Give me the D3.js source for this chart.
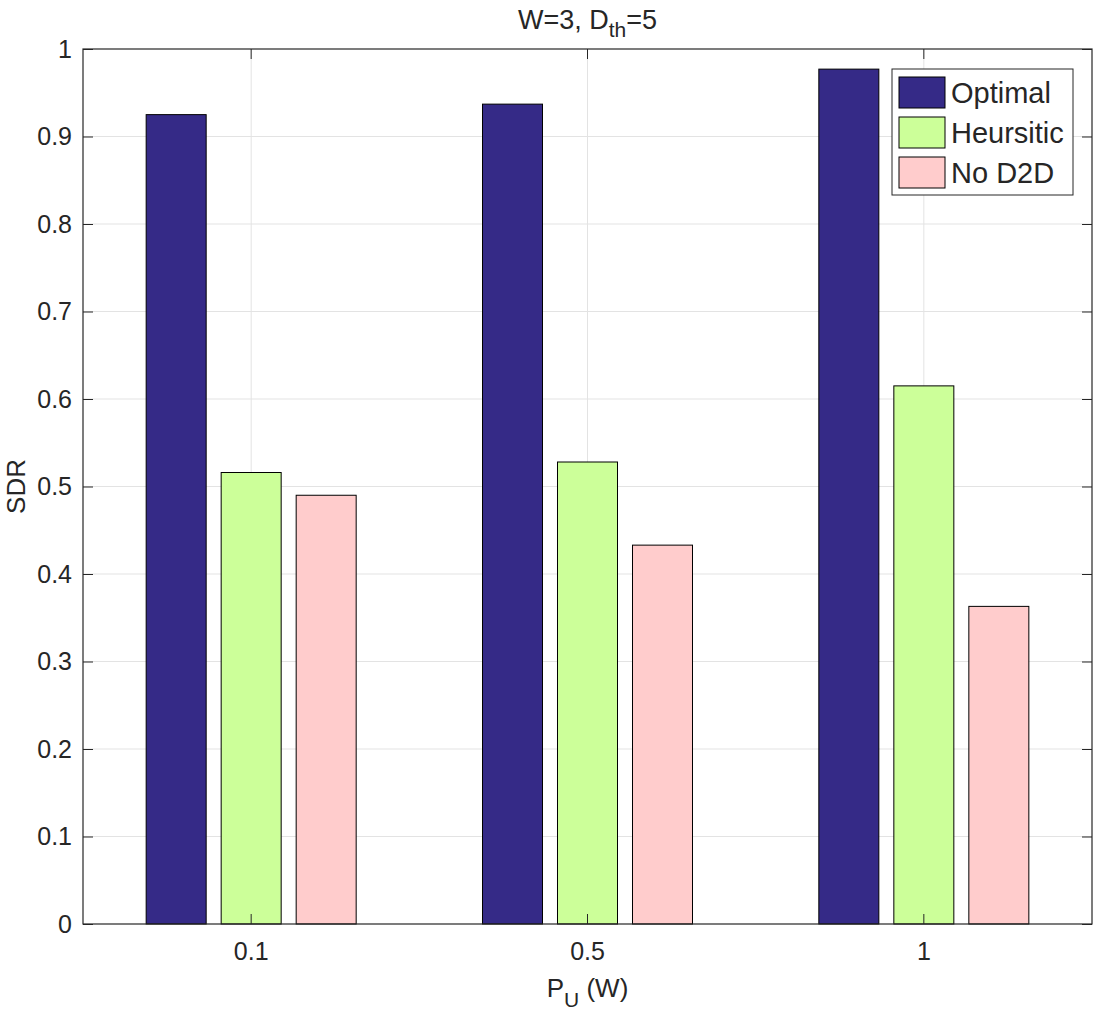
<!DOCTYPE html>
<html>
<head>
<meta charset="utf-8">
<script src="https://cdn.jsdelivr.net/npm/d3@7"></script>
<style>
  body { margin: 0; background: #fff; }
  svg text { font-family: "Liberation Sans", Arial, sans-serif; fill: #262626; }
</style>
</head>
<body>
<div id="chart"></div>
<script>
// data
const categories = ["0.1", "0.5", "1"];
const seriesNames = ["Optimal", "Heursitic", "No D2D"];
const optimal   = [0.925, 0.937, 0.977];
const heuristic = [0.516, 0.528, 0.615];
const noD2D     = [0.490, 0.433, 0.363];
const yTicks = [0, 0.1, 0.2, 0.3, 0.4, 0.5, 0.6, 0.7, 0.8, 0.9, 1];
const colors = ["#352a87", "#ccff99", "#ffcccc"];

const seriesValues = [optimal, heuristic, noD2D];

const W = 1107, H = 1012;
const margin = {top: 49, right: 15, bottom: 88, left: 83};
const width = W - margin.left - margin.right,
      height = H - margin.top - margin.bottom;

const svg = d3.select("#chart").append("svg")
  .attr("width", W)
  .attr("height", H);

const g = svg.append("g")
  .attr("transform", `translate(${margin.left},${margin.top})`);

const x = d3.scaleBand()
  .domain(categories)
  .range([0, width])
  .padding(0);

// bars inside a group
const inner = d3.scaleBand()
  .domain(seriesNames)
  .range([-x.bandwidth() * 0.3345, x.bandwidth() * 0.3345])
  .paddingInner(0.2)
  .paddingOuter(0.1);

const y = d3.scaleLinear()
  .domain([0, 1])
  .range([height, 0]);

const gridColor = "#e3e3e3";
const axisColor = "#262626";

// grid
g.append("g").selectAll("line.gy")
  .data(yTicks.slice(1, -1))
  .join("line")
  .attr("x1", 0).attr("x2", width)
  .attr("y1", d => y(d)).attr("y2", d => y(d))
  .attr("stroke", gridColor).attr("stroke-width", 1);

g.append("g").selectAll("line.gx")
  .data(categories)
  .join("line")
  .attr("x1", d => x(d) + x.bandwidth() / 2).attr("x2", d => x(d) + x.bandwidth() / 2)
  .attr("y1", 0).attr("y2", height)
  .attr("stroke", gridColor).attr("stroke-width", 1);

// bars
const table = [];
categories.forEach((c, i) => {
  seriesNames.forEach((s, j) => {
    table.push({cat: c, series: s, value: seriesValues[j][i], color: colors[j]});
  });
});

g.append("g").selectAll("rect")
  .data(table)
  .join("rect")
  .attr("x", d => x(d.cat) + x.bandwidth() / 2 + inner(d.series))
  .attr("width", inner.bandwidth())
  .attr("y", d => y(d.value))
  .attr("height", d => y(0) - y(d.value))
  .attr("fill", d => d.color)
  .attr("stroke", "#000")
  .attr("stroke-width", 1);

// axes with inward ticks
const tickLen = 10;
const yAxis = g.append("g")
  .call(d3.axisLeft(y).tickValues(yTicks).tickSizeInner(-tickLen).tickSizeOuter(0)
    .tickPadding(11).tickFormat(d => d3.format("")(d)));
const yAxisR = g.append("g")
  .attr("transform", `translate(${width},0)`)
  .call(d3.axisRight(y).tickValues(yTicks).tickSizeInner(-tickLen).tickSizeOuter(0).tickFormat(""));
const xAxis = g.append("g")
  .attr("transform", `translate(0,${height})`)
  .call(d3.axisBottom(x).tickSizeInner(-tickLen).tickSizeOuter(0).tickPadding(18));
const xAxisT = g.append("g")
  .call(d3.axisTop(x).tickSizeInner(-tickLen).tickSizeOuter(0).tickFormat(""));

[yAxis, yAxisR, xAxis, xAxisT].forEach(a => {
  a.select(".domain").remove();
  a.selectAll("line").attr("stroke", axisColor);
  a.selectAll("text").style("font-size", "25px").attr("fill", axisColor);
});

// box
g.append("rect")
  .attr("x", 0).attr("y", 0)
  .attr("width", width).attr("height", height)
  .attr("fill", "none")
  .attr("stroke", axisColor)
  .attr("stroke-width", 1.2);

// title
const title = svg.append("text")
  .attr("x", margin.left + width / 2)
  .attr("y", 29)
  .attr("text-anchor", "middle")
  .style("font-size", "27px");
title.append("tspan").text("W=3, D");
title.append("tspan").attr("dy", 8).style("font-size", "21px").text("th");
title.append("tspan").attr("dy", -8).text("=5");

// axis labels
const xl = svg.append("text")
  .attr("x", margin.left + width / 2)
  .attr("y", 997)
  .attr("text-anchor", "middle")
  .style("font-size", "26px");
xl.append("tspan").text("P");
xl.append("tspan").attr("dy", 10).style("font-size", "21px").text("U");
xl.append("tspan").attr("dy", -10).text(" (W)");

svg.append("text")
  .attr("transform", `translate(25,${margin.top + height / 2}) rotate(-90)`)
  .attr("text-anchor", "middle")
  .style("font-size", "26px")
  .text("SDR");

// legend
const legend = svg.append("g")
  .attr("transform", "translate(892,69)");
legend.append("rect")
  .attr("width", 181).attr("height", 126)
  .attr("fill", "#fff")
  .attr("stroke", axisColor)
  .attr("stroke-width", 1);

seriesNames.forEach((s, i) => {
  const yPos = 8 + i * 40;
  legend.append("rect")
    .attr("x", 7).attr("y", yPos)
    .attr("width", 46).attr("height", 31)
    .attr("fill", colors[i])
    .attr("stroke", "#000")
    .attr("stroke-width", 1);
  legend.append("text")
    .attr("x", 59).attr("y", yPos + 26)
    .style("font-size", "29px")
    .attr("fill", "#000")
    .text(s);
});
</script>
</body>
</html>
